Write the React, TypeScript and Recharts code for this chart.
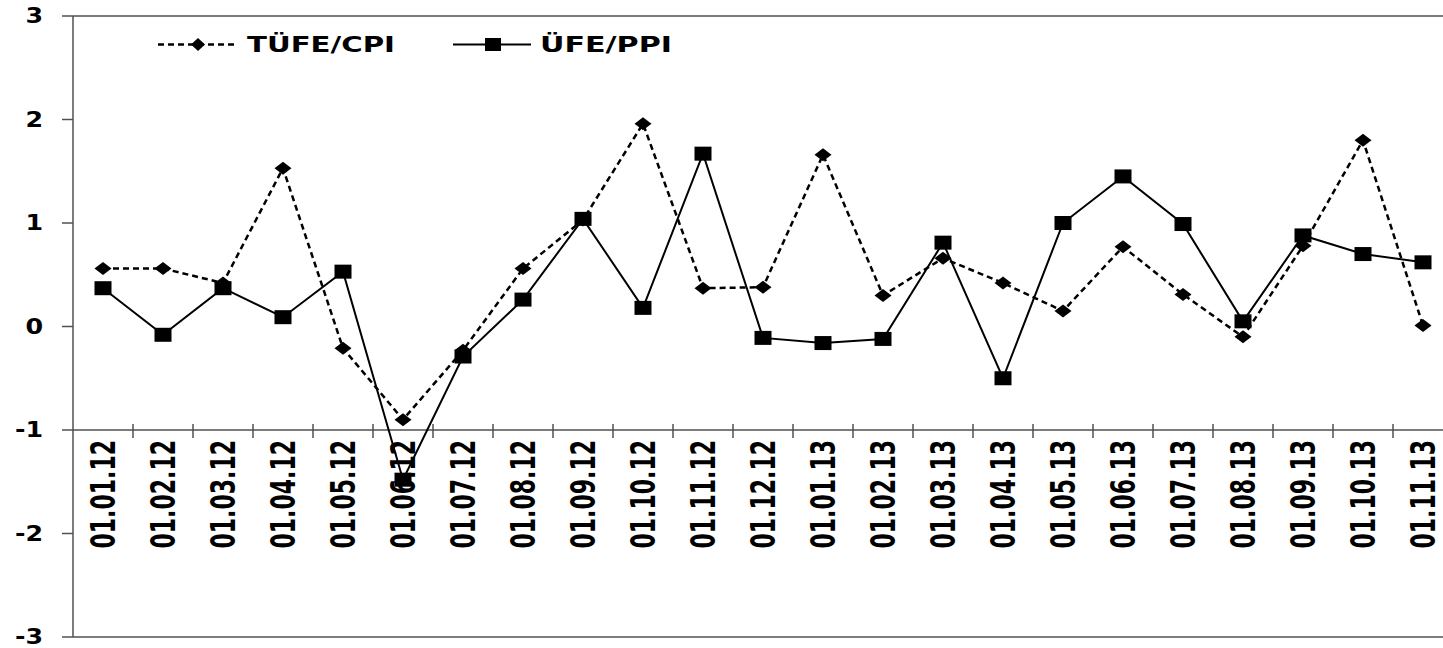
import React from "react";
import { LineChart, Line, XAxis, YAxis, ReferenceLine, Legend } from "recharts";

const CATEGORIES = [
  "01.01.12", "01.02.12", "01.03.12", "01.04.12", "01.05.12", "01.06.12",
  "01.07.12", "01.08.12", "01.09.12", "01.10.12", "01.11.12", "01.12.12",
  "01.01.13", "01.02.13", "01.03.13", "01.04.13", "01.05.13", "01.06.13",
  "01.07.13", "01.08.13", "01.09.13", "01.10.13", "01.11.13",
];

const TUFE_CPI = [
  0.56, 0.56, 0.42, 1.53, -0.21, -0.9, -0.23, 0.56, 1.03, 1.96, 0.37, 0.38,
  1.66, 0.3, 0.66, 0.42, 0.15, 0.77, 0.31, -0.1, 0.78, 1.8, 0.01,
];

const UFE_PPI = [
  0.37, -0.08, 0.37, 0.09, 0.53, -1.48, -0.29, 0.26, 1.04, 0.18, 1.67, -0.11,
  -0.16, -0.12, 0.81, -0.5, 1.0, 1.45, 0.99, 0.05, 0.88, 0.7, 0.62,
];

const Y_TICKS = [-3, -2, -1, 0, 1, 2, 3];
const SERIES_NAMES = ["TÜFE/CPI", "ÜFE/PPI"];

const data = CATEGORIES.map((date, i) => ({
  date,
  cpi: TUFE_CPI[i],
  ppi: UFE_PPI[i],
}));

const FONT = "'DejaVu Sans', Verdana, sans-serif";
const AXIS_COLOR = "#505050";

const Diamond = (props: any) => {
  const { cx, cy, index } = props;
  if (cx == null || cy == null) return <g key={`dm-${index}`} />;
  const hw = 8.5;
  const hh = 6.5;
  return (
    <path
      key={`dm-${index}`}
      d={`M${cx - hw},${cy} L${cx},${cy - hh} L${cx + hw},${cy} L${cx},${cy + hh} Z`}
      fill="#000"
      stroke="none"
    />
  );
};

const Square = (props: any) => {
  const { cx, cy, index } = props;
  if (cx == null || cy == null) return <g key={`sq-${index}`} />;
  const w = 17;
  const h = 14;
  return <rect key={`sq-${index}`} x={cx - w / 2} y={cy - h / 2} width={w} height={h} fill="#000" />;
};

const renderYTick = (props: any) => {
  const { x, y, payload, index } = props;
  return (
    <text
      key={`yt-${index}`}
      x={0}
      y={0}
      transform={`translate(${x},${y}) scale(1.15,1)`}
      textAnchor="end"
      dominantBaseline="central"
      style={{ fontFamily: FONT, fontWeight: 700, fontSize: 22 }}
      fill="#000"
    >
      {payload.value}
    </text>
  );
};

// Category axis drawn along the y = -1 reference line
const CategoryAxisShape = (props: any) => {
  const { x1, y1, x2 } = props;
  if (x1 == null || y1 == null || x2 == null) return <g />;
  const n = CATEGORIES.length;
  const bw = (x2 - x1) / n;
  return (
    <g>
      <line x1={x1} y1={y1} x2={x2} y2={y1} stroke={AXIS_COLOR} strokeWidth={1.5} />
      {CATEGORIES.map((c, i) => (
        <line
          key={`t-${c}`}
          x1={x1 + (i + 1) * bw}
          x2={x1 + (i + 1) * bw}
          y1={y1 - 6}
          y2={y1 + 8}
          stroke={AXIS_COLOR}
          strokeWidth={1.5}
        />
      ))}
      {CATEGORIES.map((c, i) => (
        <text
          key={`l-${c}`}
          transform={`translate(${x1 + (i + 0.5) * bw + 1},${y1 + 10}) rotate(-90) scale(1,1.5)`}
          textAnchor="end"
          dominantBaseline="central"
          style={{ fontFamily: FONT, fontWeight: 700, fontSize: 22 }}
          fill="#000"
        >
          {c}
        </text>
      ))}
    </g>
  );
};

const LegendContent = () => (
  <svg width={540} height={40} style={{ display: "block" }}>
    <line x1={8} y1={19.5} x2={87} y2={19.5} stroke="#000" strokeWidth={2.5} strokeDasharray="6 4" />
    <path d="M41,19.5 L48,13 L55,19.5 L48,26 Z" fill="#000" />
    <text
      x={97}
      y={27}
      style={{ fontFamily: FONT, fontWeight: 700, fontSize: 21 }}
      textLength={148}
      lengthAdjust="spacingAndGlyphs"
      fill="#000"
    >
      {SERIES_NAMES[0]}
    </text>
    <line x1={303} y1={19.5} x2={381} y2={19.5} stroke="#000" strokeWidth={2} />
    <rect x={335} y={13} width={16} height={13} fill="#000" />
    <text
      x={390}
      y={27}
      style={{ fontFamily: FONT, fontWeight: 700, fontSize: 21 }}
      textLength={132}
      lengthAdjust="spacingAndGlyphs"
      fill="#000"
    >
      {SERIES_NAMES[1]}
    </text>
  </svg>
);

export default function App() {
  return (
    <div
      style={{
        position: "absolute",
        left: 0,
        top: 0,
        width: 1443,
        height: 648,
        overflow: "hidden",
        background: "#fff",
      }}
    >
      <LineChart
        width={1458}
        height={648}
        data={data}
        margin={{ top: 16, right: 5, bottom: 11, left: 0 }}
      >
        <XAxis dataKey="date" scale="band" hide />
        <YAxis
          width={73}
          domain={[-3, 3]}
          ticks={Y_TICKS}
          interval={0}
          allowDataOverflow
          tickSize={11}
          tickMargin={19}
          tick={renderYTick}
          axisLine={{ stroke: AXIS_COLOR, strokeWidth: 1.5 }}
          tickLine={{ stroke: AXIS_COLOR, strokeWidth: 1.5 }}
        />
        <ReferenceLine y={3} stroke={AXIS_COLOR} strokeWidth={1.5} />
        <ReferenceLine y={-3} stroke={AXIS_COLOR} strokeWidth={1.5} />
        <ReferenceLine y={-1} shape={(p: any) => <CategoryAxisShape {...p} />} />
        <Legend
          layout="horizontal"
          verticalAlign="middle"
          align="center"
          content={() => <LegendContent />}
          wrapperStyle={{ left: 150, top: 25, width: 540, height: 40 }}
        />
        <Line
          type="linear"
          dataKey="cpi"
          name={SERIES_NAMES[0]}
          stroke="#000"
          strokeWidth={2.5}
          strokeDasharray="6 4"
          dot={(p: any) => <Diamond {...p} key={`dm-${p.index}`} />}
          activeDot={false}
          isAnimationActive={false}
        />
        <Line
          type="linear"
          dataKey="ppi"
          name={SERIES_NAMES[1]}
          stroke="#000"
          strokeWidth={2}
          dot={(p: any) => <Square {...p} key={`sq-${p.index}`} />}
          activeDot={false}
          isAnimationActive={false}
        />
      </LineChart>
    </div>
  );
}
